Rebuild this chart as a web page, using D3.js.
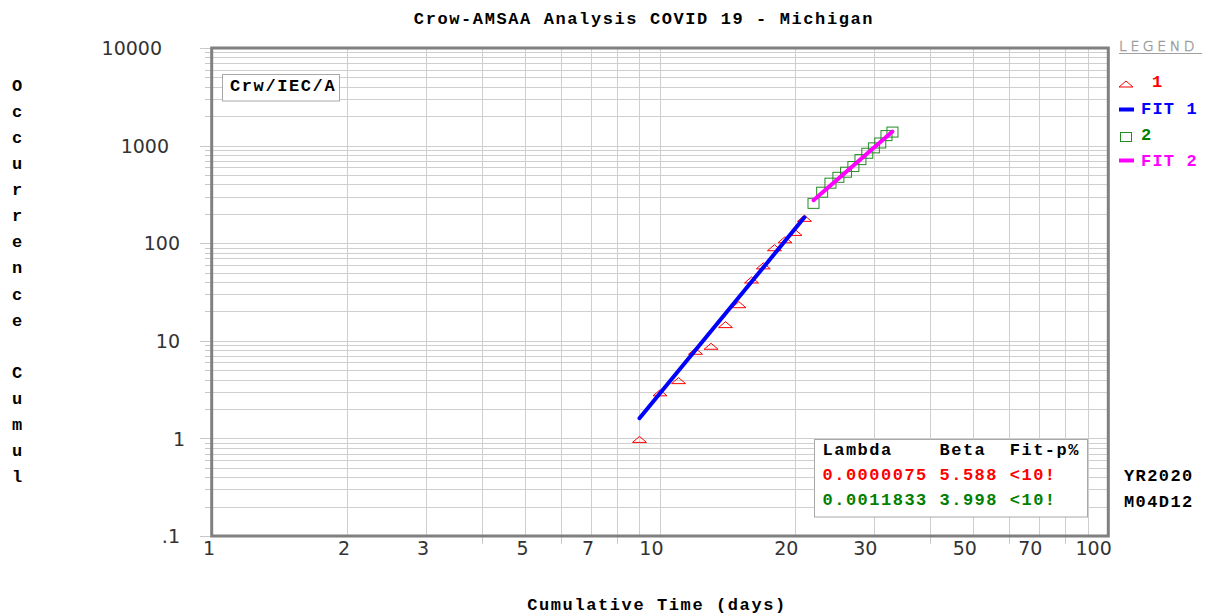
<!DOCTYPE html>
<html><head><meta charset="utf-8">
<script src="https://cdn.jsdelivr.net/npm/d3@7"></script>
<style>body{margin:0;background:#fff} svg{display:block} text{white-space:pre}</style>
</head><body><svg id="c" width="1209" height="616"></svg>
<script>
const title = "Crow-AMSAA Analysis COVID 19 - Michigan";
const xTitle = "Cumulative Time (days)";
const yTitle = "Occurrence Cumul";
const s1Days = [9,10,11,12,13,14,15,16,17,18,19,20,21];
const s1Values = [1,3,4,8,9,15,24,43,60,92,111,132,184];
const s2Days = [22,23,24,25,26,27,28,29,30,31,32,33];
const s2Values = [259,337,417,479,540,617,727,845,959,1076,1281,1392];
const fit1Days = [9,21];
const fit1Values = [1.61,184];
const fit2Days = [22,33];
const fit2Values = [276,1394];
const xTickValues = [1,2,3,5,7,10,20,30,50,70,100];
const xTickLabels = ["1","2","3","5","7","10","20","30","50","70","100"];
const xMinorTicks = [4,6,8,40,60,80];
const yTickValues = [10000,1000,100,10,1,0.1];
const yTickLabels = ["10000","1000","100","10","1",".1"];
const statsHeader = "Lambda    Beta  Fit-p%";
const statsRows = ["0.0000075 5.588 <10!","0.0011833 3.998 <10!"];
const legendTitle = "LEGEND";
const legendLabels = ["1","FIT 1","2","FIT 2"];
const sideNotes = ["YR2020","M04D12"];
const boxLabel = "Crw/IEC/A";

const RED="#ff0000", BLUE="#0000ff", GREEN="#008000", MAG="#ff00ff";
const MONO = "'Courier New','Liberation Mono',monospace";
const SANS = "Verdana,'DejaVu Sans',sans-serif";

const svg = d3.select("#c");
svg.append("rect").attr("width",1209).attr("height",616).attr("fill","#fff");

const x = d3.scaleLog().domain([1,100]).range([211.7,1108.3]);
const y = d3.scaleLog().domain([0.1,10000]).range([536,48]);

// grid values
const gx=[]; for(const dec of [1,10]) for(let k=1;k<10;k++) gx.push(dec*k); gx.push(100);
const gy=[]; for(const dec of [0.1,1,10,100,1000]) for(let k=1;k<10;k++) gy.push(dec*k); gy.push(10000);

const grid = svg.append("g").attr("stroke","#cfcfcf").attr("stroke-width",1).attr("shape-rendering","crispEdges");
grid.selectAll("line.v").data(gx).join("line").attr("class","v")
  .attr("x1",d=>Math.round(x(d))+0.5).attr("x2",d=>Math.round(x(d))+0.5).attr("y1",48).attr("y2",536);
grid.selectAll("line.h").data(gy).join("line").attr("class","h")
  .attr("y1",d=>Math.round(y(d))+0.5).attr("y2",d=>Math.round(y(d))+0.5).attr("x1",211.7).attr("x2",1108.3);

// y ticks left of axis
const yt = svg.append("g").attr("stroke","#c8c8c8").attr("shape-rendering","crispEdges");
yt.selectAll("line").data(gy).join("line")
  .attr("y1",d=>Math.round(y(d))+0.5).attr("y2",d=>Math.round(y(d))+0.5)
  .attr("x1",d=> (Math.abs(Math.log10(d)-Math.round(Math.log10(d)))<1e-9) ? 200 : 205).attr("x2",211);
// x minor ticks below axis
svg.append("g").attr("stroke","#c8c8c8").attr("shape-rendering","crispEdges")
  .selectAll("line").data(xMinorTicks).join("line")
  .attr("x1",d=>Math.round(x(d))+0.5).attr("x2",d=>Math.round(x(d))+0.5).attr("y1",536).attr("y2",544);

// x axis labels
const xa = svg.append("g").attr("transform","translate(0,536)")
  .call(d3.axisBottom(x).tickValues(xTickValues).tickFormat((d,i)=>xTickLabels[i]).tickSize(0));
xa.select(".domain").remove();
xa.selectAll("text").attr("font-family",SANS).attr("font-size",19).attr("fill","#333")
  .attr("text-anchor","end").attr("dx",3).attr("dy",0).attr("y",19);

// y axis labels
const yLabelRight = [162,169,180,180,185,180];
const ya = svg.append("g").attr("transform","translate(211.7,0)")
  .call(d3.axisLeft(y).tickValues(yTickValues).tickFormat((d,i)=>yTickLabels[i]).tickSize(0));
ya.select(".domain").remove();
ya.selectAll("text").attr("font-family",SANS).attr("font-size",19).attr("fill","#333")
  .attr("text-anchor","end").attr("dy","0.35em")
  .attr("x",(d,i)=>yLabelRight[i]-211.7);

// frame
svg.append("rect").attr("x",211.7).attr("y",48).attr("width",1108.3-211.7).attr("height",536-48)
  .attr("fill","none").attr("stroke","#808080").attr("stroke-width",3);

// top-left box
svg.append("rect").attr("x",222.5).attr("y",74.5).attr("width",117).attr("height",26.5)
  .attr("fill","#fff").attr("stroke","#a8a8a8");
svg.append("text").attr("x",230).attr("y",91).attr("font-family",MONO).attr("font-weight","bold")
  .attr("font-size",17).attr("letter-spacing",1.6).attr("fill","#000").text(boxLabel);

// stats box
svg.append("rect").attr("x",814.5).attr("y",439.5).attr("width",273).attr("height",77.5)
  .attr("fill","#fff").attr("stroke","#a8a8a8");
const stats = svg.append("g").attr("font-family",MONO).attr("font-weight","bold").attr("font-size",17).attr("letter-spacing",1.5);
stats.append("text").attr("x",822.5).attr("y",455).attr("fill","#000").text(statsHeader);
stats.selectAll("text.r").data(statsRows).join("text").attr("class","r")
  .attr("x",822.5).attr("y",(d,i)=>480+i*25).attr("fill",(d,i)=>i?GREEN:RED).text(d=>d);

// series 1 triangles
svg.append("g").selectAll("path").data(s1Days.map((d,i)=>[d,s1Values[i]])).join("path")
  .attr("d","M0,-3 L7,3 L-7,3 Z")
  .attr("transform",d=>`translate(${x(d[0])},${y(d[1])+1})`)
  .attr("fill","none").attr("stroke",RED).attr("stroke-width",1);
// series 2 squares
svg.append("g").selectAll("rect").data(s2Days.map((d,i)=>[d,s2Values[i]])).join("rect")
  .attr("x",d=>x(d[0])-5.5).attr("y",d=>y(d[1])-4.5).attr("width",11).attr("height",10)
  .attr("fill","none").attr("stroke","#228b22").attr("stroke-width",1);

// fits
const line = d3.line().x(d=>x(d[0])).y(d=>y(d[1]));
svg.append("path").attr("d",line(fit1Days.map((d,i)=>[d,fit1Values[i]])))
  .attr("stroke",BLUE).attr("stroke-width",4).attr("fill","none").attr("stroke-linecap","round");
svg.append("path").attr("d",line(fit2Days.map((d,i)=>[d,fit2Values[i]])))
  .attr("stroke",MAG).attr("stroke-width",4).attr("fill","none").attr("stroke-linecap","round");

// title
svg.append("text").attr("x",644).attr("y",24).attr("text-anchor","middle")
  .attr("font-family",MONO).attr("font-weight","bold").attr("font-size",17).attr("letter-spacing",1.6)
  .text(title);
svg.append("text").attr("x",657).attr("y",610).attr("text-anchor","middle")
  .attr("font-family",MONO).attr("font-weight","bold").attr("font-size",17).attr("letter-spacing",1.6)
  .text(xTitle);
// y title vertical letters
svg.append("g").selectAll("text").data(yTitle.split("")).join("text")
  .attr("x",17).attr("y",(d,i)=>85+i*26.07).attr("dy","0.35em").attr("text-anchor","middle")
  .attr("font-family",MONO).attr("font-weight","bold").attr("font-size",17).text(d=>d);

// legend
svg.append("text").attr("x",1119).attr("y",51).attr("font-family",SANS).attr("font-size",14)
  .attr("font-weight",300).attr("letter-spacing",3.6).attr("fill","#fff").attr("stroke","#9a9a9a")
  .attr("stroke-width",0.6).text(legendTitle);
svg.append("line").attr("x1",1119).attr("x2",1202).attr("y1",53.5).attr("y2",53.5).attr("stroke","#a0a0a0");
const lg = svg.append("g");
lg.append("path").attr("d","M0,-3 L7,3 L-7,3 Z").attr("transform","translate(1126,84)").attr("fill","none").attr("stroke",RED);
lg.append("line").attr("x1",1119).attr("x2",1134).attr("y1",109.5).attr("y2",109.5).attr("stroke",BLUE).attr("stroke-width",4);
lg.append("rect").attr("x",1120.5).attr("y",132.5).attr("width",11).attr("height",9).attr("fill","none").attr("stroke","#228b22");
lg.append("line").attr("x1",1119).attr("x2",1134).attr("y1",160.5).attr("y2",160.5).attr("stroke",MAG).attr("stroke-width",4);
const legendPos = [[1152,87],[1141,114],[1141,140],[1141,166]];
const legendCols = [RED,BLUE,GREEN,MAG];
lg.selectAll("text").data(legendLabels).join("text")
  .attr("x",(d,i)=>legendPos[i][0]).attr("y",(d,i)=>legendPos[i][1])
  .attr("font-family",MONO).attr("font-weight","bold").attr("font-size",17).attr("letter-spacing",1.2)
  .attr("fill",(d,i)=>legendCols[i]).text(d=>d);

// side notes
svg.append("g").selectAll("text").data(sideNotes).join("text")
  .attr("x",1124).attr("y",(d,i)=>481+i*26).attr("font-family",MONO).attr("font-weight","bold")
  .attr("font-size",17).attr("letter-spacing",1.4).attr("fill","#000").text(d=>d);
</script></body></html>
